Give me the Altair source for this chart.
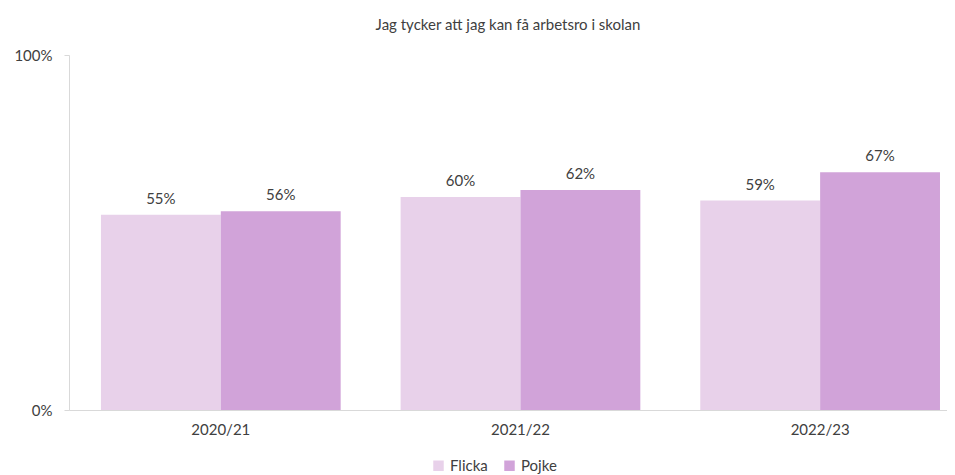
import altair as alt
import pandas as pd

years = ["2020/21", "2021/22", "2022/23"]
flicka = [55, 60, 59]
pojke = [56, 62, 67]
groups = ["Flicka", "Pojke"]
colors = ["#E8D1EA", "#D1A3D9"]
title = "Jag tycker att jag kan få arbetsro i skolan"

rows = []
for i, y in enumerate(years):
    rows.append({"year": y, "kon": "Flicka", "v": flicka[i] / 100})
    rows.append({"year": y, "kon": "Pojke", "v": pojke[i] / 100})
df = pd.DataFrame(rows)

FONT = "Lato"
TXT = "#404040"

x = alt.X("year:N", sort=years, title=None,
          scale=alt.Scale(paddingInner=0.2, paddingOuter=0.065, align=0.82),
          axis=alt.Axis(labelAngle=0, ticks=False, domainColor="#d9d9d9",
                        labelFontSize=15, labelColor=TXT, labelFont=FONT, labelPadding=12))
xo = alt.XOffset("kon:N", sort=groups)
y = alt.Y("v:Q", title=None,
          scale=alt.Scale(domain=[0, 1]),
          axis=alt.Axis(values=[0, 1], format=".0%", grid=False, domainColor="#d9d9d9",
                        tickColor="#d9d9d9", tickSize=5, labelFontSize=15, labelColor=TXT,
                        labelFont=FONT, labelPadding=12))
color = alt.Color("kon:N", sort=groups, title=None,
                  scale=alt.Scale(domain=groups, range=colors),
                  legend=alt.Legend(orient="none", legendX=362, legendY=403, direction="horizontal",
                                    symbolType="square", symbolSize=110,
                                    labelFontSize=15, labelColor=TXT, labelFont=FONT,
                                    columnPadding=14, symbolStrokeWidth=0))

base = alt.Chart(df)
bars = base.mark_bar().encode(x=x, xOffset=xo, y=y, color=color)
labels = base.mark_text(dy=-16, fontSize=15, color=TXT, font=FONT).encode(
    x=x, xOffset=xo, y=y, text=alt.Text("v:Q", format=".0%"))

chart = (bars + labels).properties(
    width=878, height=355,
    title=alt.Title(title, fontSize=15, font=FONT, color=TXT, fontWeight="normal", offset=15),
    padding={"left": 5, "right": 0, "top": 10, "bottom": 0},
).configure_view(stroke=None)

chart.save("out.html", embed_options={"renderer": "svg", "actions": False})
